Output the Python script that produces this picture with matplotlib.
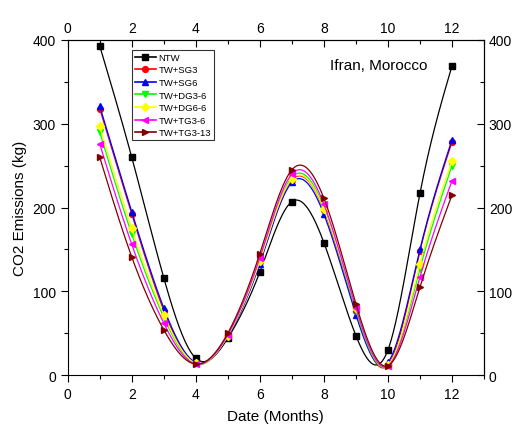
import numpy as np
import matplotlib
matplotlib.use('Agg')
from matplotlib import pyplot as plt
from matplotlib.ticker import MultipleLocator

plt.rcParams['font.family'] = ['Liberation Sans', 'DejaVu Sans']

months = [1, 2, 3, 4, 5, 6, 7, 8, 9, 10, 11, 12]

ntw = [393, 260, 116, 20, 44, 123, 207, 158, 47, 30, 217, 369]
tw_sg3 = [318, 192, 77, 14, 47, 136, 233, 197, 76, 12, 148, 278]
tw_sg6 = [321, 195, 80, 15, 46, 133, 230, 192, 72, 15, 150, 281]
tw_dg3_6 = [290, 168, 69, 13, 47, 137, 236, 200, 77, 11, 127, 250]
tw_dg6_6 = [297, 175, 72, 14, 47, 136, 234, 198, 80, 12, 133, 256]
tw_tg3_6 = [276, 156, 62, 13, 48, 140, 240, 204, 80, 11, 117, 232]
tw_tg3_13 = [260, 141, 54, 13, 50, 145, 245, 211, 85, 11, 105, 215]

names = ['NTW', 'TW+SG3', 'TW+SG6', 'TW+DG3-6', 'TW+DG6-6', 'TW+TG3-6', 'TW+TG3-13']
series = [ntw, tw_sg3, tw_sg6, tw_dg3_6, tw_dg6_6, tw_tg3_6, tw_tg3_13]
colors = ['black', 'red', 'blue', '#00ff00', '#ffff00', '#ff00ff', '#800000']
markers = ['s', 'o', '^', 'v', 'D', '<', '>']
msizes = [4.2, 4.2, 4.8, 4.8, 3.8, 4.8, 4.8]


def natural_spline(x, y, xs):
    # plain natural cubic spline, no scipy here
    x = np.asarray(x, float)
    y = np.asarray(y, float)
    n = len(x)
    h = np.diff(x)
    A = np.zeros((n, n))
    b = np.zeros(n)
    A[0, 0] = 1
    A[-1, -1] = 1
    for i in range(1, n - 1):
        A[i, i - 1] = h[i - 1]
        A[i, i] = 2 * (h[i - 1] + h[i])
        A[i, i + 1] = h[i]
        b[i] = 3 * ((y[i + 1] - y[i]) / h[i] - (y[i] - y[i - 1]) / h[i - 1])
    c = np.linalg.solve(A, b)
    out = np.zeros_like(xs)
    for k, xv in enumerate(xs):
        i = min(max(np.searchsorted(x, xv) - 1, 0), n - 2)
        dx = xv - x[i]
        bi = (y[i + 1] - y[i]) / h[i] - h[i] * (2 * c[i] + c[i + 1]) / 3
        di = (c[i + 1] - c[i]) / (3 * h[i])
        out[k] = y[i] + bi * dx + c[i] * dx ** 2 + di * dx ** 3
    return out


fig = plt.figure(figsize=(5.14, 4.27), dpi=100)
ax = fig.add_axes([0.1317, 0.1194, 0.81, 0.7846])

xs = np.linspace(1, 12, 400)
for name, vals, col, mk, ms in zip(names, series, colors, markers, msizes):
    ys = natural_spline(months, vals, xs)
    ax.plot(xs, ys, color=col, lw=0.9)
    ax.plot(months, vals, linestyle='none', marker=mk, color=col, ms=ms)
    # legend proxy
    ax.plot([], [], color=col, lw=1.2, marker=mk, ms=ms, label=name)

ax.set_xlim(0, 13)
ax.set_ylim(0, 400)
ax.xaxis.set_major_locator(MultipleLocator(2))
ax.xaxis.set_minor_locator(MultipleLocator(1))
ax.yaxis.set_major_locator(MultipleLocator(100))
ax.yaxis.set_minor_locator(MultipleLocator(50))

ax.tick_params(which='both', direction='out', labelsize=10, width=0.8,
               top=False, right=False)
ax.tick_params(which='major', length=5)
ax.tick_params(which='minor', length=3)

# top and right axes, mirrored with labels
axt = ax.secondary_xaxis('top')
axt.xaxis.set_major_locator(MultipleLocator(2))
axt.xaxis.set_minor_locator(MultipleLocator(1))
axt.tick_params(which='both', direction='in', labelsize=10, width=0.8)
axt.tick_params(which='major', length=5)
axt.tick_params(which='minor', length=3)
axr = ax.secondary_yaxis('right')
axr.yaxis.set_major_locator(MultipleLocator(100))
axr.yaxis.set_minor_locator(MultipleLocator(50))
axr.tick_params(which='both', direction='in', labelsize=10, width=0.8)
axr.tick_params(which='major', length=5)
axr.tick_params(which='minor', length=3)

ax.set_xlabel('Date (Months)', fontsize=11, labelpad=6)
ax.set_ylabel('CO2 Emissions (kg)', fontsize=11, labelpad=4)

ax.text(0.747, 0.925, 'Ifran, Morocco', transform=ax.transAxes,
        fontsize=11, ha='center', va='center')

leg = ax.legend(loc='upper left', bbox_to_anchor=(0.155, 0.97), fontsize=6.8,
                frameon=True, fancybox=False, edgecolor='black',
                handlelength=2.2, handletextpad=0.3, borderpad=0.3,
                labelspacing=0.38, borderaxespad=0)
leg.get_frame().set_linewidth(0.8)

fig.savefig('out.png', dpi=100)
